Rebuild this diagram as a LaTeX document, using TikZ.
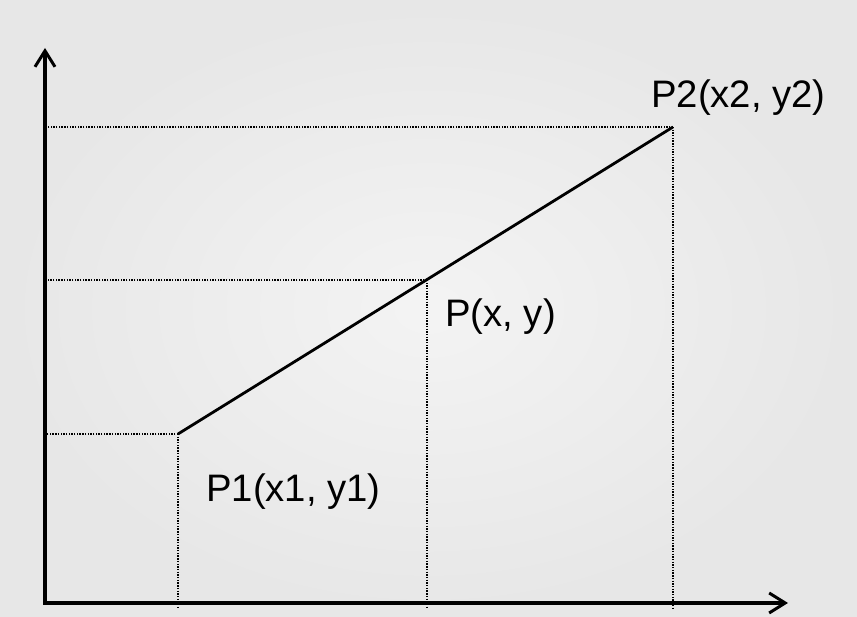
\documentclass[tikz,border=0pt]{standalone}
\usepackage{fontspec}
\setmainfont{Liberation Sans}
\usetikzlibrary{arrows.meta}
\begin{document}
\begin{tikzpicture}[x=1pt,y=1pt,
  axis/.style={line width=3.4pt,-{Straight Barb[length=16pt,width=20pt,line width=3pt]}},
  guide/.style={line width=1.6pt,dash pattern=on 1.4pt off 1.3pt},
  segline/.style={line width=2.8pt},
  lbl/.style={anchor=base west,inner sep=0pt,font=\fontsize{38.3}{42}\selectfont}]
\shade[inner color=gray!9,outer color=gray!19] (0,0) rectangle (857,617);
\useasboundingbox (0,0) rectangle (857,617);
\coordinate (O) at (45,14);
\coordinate (Ytop) at (45,569);
\coordinate (Xend) at (788,14);
\coordinate (P1) at (178,183);
\coordinate (P) at (427,337);
\coordinate (P2) at (673,490);
\draw[guide] (P1) -- (P1 -| O);
\draw[guide] (P) -- (P -| O);
\draw[guide] (P2) -- (P2 -| O);
\draw[guide] (P1) -- ([yshift=-5pt]P1 |- O);
\draw[guide] (P) -- ([yshift=-5pt]P |- O);
\draw[guide] (P2) -- ([yshift=-5pt]P2 |- O);
\draw[segline] (P1) -- (P2);
\draw[axis,line cap=butt] ([yshift=-1.7pt]O) -- (Ytop);
\draw[axis] ([xshift=-1.7pt]O) -- (Xend);
\node[lbl] (L1) at (206,115) {P1(x1, y1)};
\node[lbl] (L) at (445,290) {P(x, y)};
\node[lbl] (L2) at (651,509) {P2(x2, y2)};
\end{tikzpicture}
\end{document}
